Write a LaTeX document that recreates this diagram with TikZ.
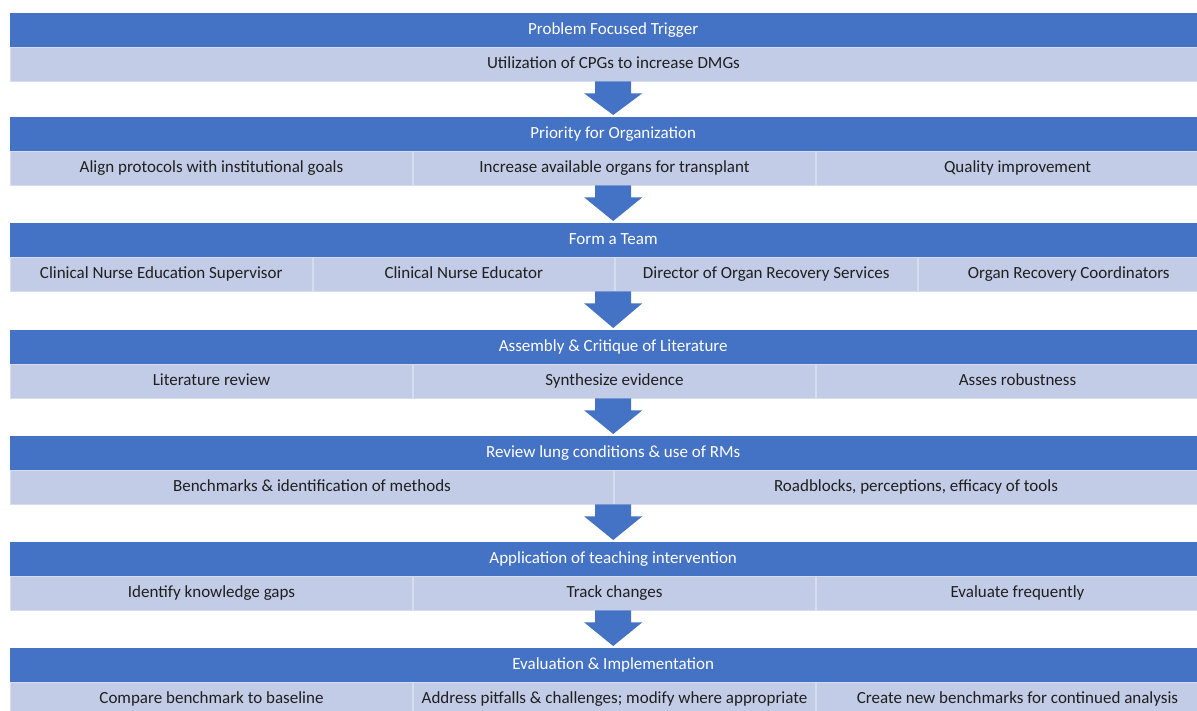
\documentclass[tikz,border=0pt]{standalone}
\usepackage{fontspec}
\setmainfont{Carlito}
\usetikzlibrary{calc}

\definecolor{headblue}{HTML}{4472C4}
\definecolor{rowblue}{HTML}{C2CCE6}
\definecolor{cellline}{HTML}{D6DDEF}

\tikzset{
    stagehead/.style={fill=headblue, text=white, minimum width=1206pt, minimum height=34pt,
        anchor=north west, inner sep=0pt, text height=12pt, text depth=4pt,
        font=\fontsize{17}{20}\selectfont},
    stagecell/.style={fill=rowblue, draw=cellline, line width=1pt, text=black!88,
        minimum height=34pt, anchor=north west, inner sep=0pt, text height=12pt, text depth=4pt,
        font=\fontsize{17}{20}\selectfont},
    downarrow/.style={fill=headblue}
}

% block arrow from the sub row of one stage to the next header
\newcommand{\stagearrow}[2]{
    \fill[downarrow] ($(#1.south)+(-18,34)$) -- ($(#1.south)+(18,34)$)
        -- ($(#1.south)+(18,46)$) -- ($(#1.south)+(29,46)$)
        -- ($(#2.north)+(0,-2)$)
        -- ($(#1.south)+(-29,46)$) -- ($(#1.south)+(-18,46)$) -- cycle;
}

\begin{document}
\begin{tikzpicture}[x=1pt, y=-1pt]

    \useasboundingbox (0,0) rectangle (1197,710);
    \fill[white] (0,0) rectangle (1197,710);
    \clip (0,0) rectangle (1197,710);

    \node[stagehead] (h1) at (10,13) {Problem Focused Trigger};
    \node[stagecell, minimum width=1206pt] (s1) at (h1.south west) {Utilization of CPGs to increase DMGs};

    \node[stagehead] (h2) at (10,117) {Priority for Organization};
    \node[stagecell, minimum width=402pt] (s2a) at (h2.south west) {Align protocols with institutional goals};
    \node[stagecell, minimum width=402pt] (s2b) at (s2a.north east) {Increase available organs for transplant};
    \node[stagecell, minimum width=402pt] (s2c) at (s2b.north east) {Quality improvement};

    \node[stagehead] (h3) at (10,223) {Form a Team};
    \node[stagecell, minimum width=301.5pt] (s3a) at (h3.south west) {Clinical Nurse Education Supervisor};
    \node[stagecell, minimum width=301.5pt] (s3b) at (s3a.north east) {Clinical Nurse Educator};
    \node[stagecell, minimum width=301.5pt] (s3c) at (s3b.north east) {Director of Organ Recovery Services};
    \node[stagecell, minimum width=301.5pt] (s3d) at (s3c.north east) {Organ Recovery Coordinators};

    \node[stagehead] (h4) at (10,330) {Assembly \& Critique of Literature};
    \node[stagecell, minimum width=402pt] (s4a) at (h4.south west) {Literature review};
    \node[stagecell, minimum width=402pt] (s4b) at (s4a.north east) {Synthesize evidence};
    \node[stagecell, minimum width=402pt] (s4c) at (s4b.north east) {Asses robustness};

    \node[stagehead] (h5) at (10,436) {Review lung conditions \& use of RMs};
    \node[stagecell, minimum width=603pt] (s5a) at (h5.south west) {Benchmarks \& identification of methods};
    \node[stagecell, minimum width=603pt] (s5b) at (s5a.north east) {Roadblocks, perceptions, efficacy of tools};

    \node[stagehead] (h6) at (10,542) {Application of teaching intervention};
    \node[stagecell, minimum width=402pt] (s6a) at (h6.south west) {Identify knowledge gaps};
    \node[stagecell, minimum width=402pt] (s6b) at (s6a.north east) {Track changes};
    \node[stagecell, minimum width=402pt] (s6c) at (s6b.north east) {Evaluate frequently};

    \node[stagehead] (h7) at (10,648) {Evaluation \& Implementation};
    \node[stagecell, minimum width=402pt] (s7a) at (h7.south west) {Compare benchmark to baseline};
    \node[stagecell, minimum width=402pt] (s7b) at (s7a.north east) {Address pitfalls \& challenges; modify where appropriate};
    \node[stagecell, minimum width=402pt] (s7c) at (s7b.north east) {Create new benchmarks for continued analysis};

    \stagearrow{h1}{h2}
    \stagearrow{h2}{h3}
    \stagearrow{h3}{h4}
    \stagearrow{h4}{h5}
    \stagearrow{h5}{h6}
    \stagearrow{h6}{h7}

\end{tikzpicture}
\end{document}
